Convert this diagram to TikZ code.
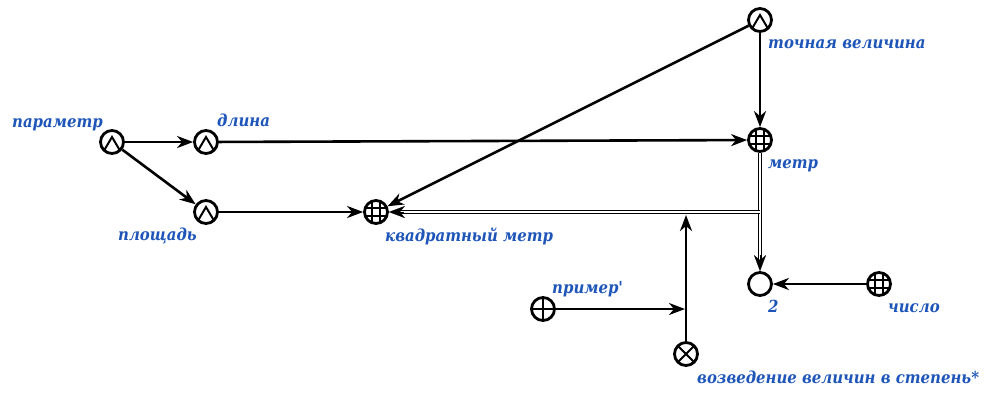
\documentclass[tikz,border=0pt]{standalone}
\usepackage{fontspec}
\setmainfont{DejaVu Serif Condensed}
\usetikzlibrary{arrows.meta,calc}
\definecolor{lblblue}{RGB}{30,85,185}
\tikzset{
  base/.style={circle,draw,line width=2.8pt,minimum size=23pt,inner sep=0pt,fill=white},
  abst/.style={base,path picture={\draw[line width=2pt] ([shift={(-10pt,-12pt)}]path picture bounding box.center) -- ++(10pt,17pt) -- ++(10pt,-17pt);}},
  gridnd/.style={base,path picture={
    \foreach \d in {-4pt,4pt}{
      \draw[line width=1.2pt] ([xshift=\d]path picture bounding box.north) -- ([xshift=\d]path picture bounding box.south);
      \draw[line width=1.2pt] ([yshift=\d]path picture bounding box.west) -- ([yshift=\d]path picture bounding box.east);}}},
  plusnd/.style={base,path picture={
      \draw[line width=2pt] (path picture bounding box.north) -- (path picture bounding box.south);
      \draw[line width=2pt] (path picture bounding box.west) -- (path picture bounding box.east);}},
  timesnd/.style={base,path picture={
      \draw[line width=2pt] (path picture bounding box.north west) -- (path picture bounding box.south east);
      \draw[line width=2pt] (path picture bounding box.south west) -- (path picture bounding box.north east);}},
  emptynd/.style={base},
  lbl/.style={text=lblblue,font=\bfseries\itshape\fontsize{16.6}{20}\selectfont,inner sep=0pt,anchor=base west},
  arr/.style={line width=2.6pt,-{Stealth[length=16pt,width=12pt,inset=5pt]}},
  dbl/.style={line width=1.3pt,double=white,double distance=2pt},
  dtip/.style={line width=0.1pt,-{Stealth[length=16pt,width=12pt,inset=5pt]}}
}
\begin{document}
\begin{tikzpicture}[x=1pt,y=-1pt]
\useasboundingbox (0,0) rectangle (984,392);
% nodes
\node[abst] (par) at (112,142) {};
\node[abst] (dlina) at (206,142) {};
\node[abst] (plosh) at (206,212) {};
\node[gridnd] (kvm) at (376,212) {};
\node[abst] (toch) at (760,20) {};
\node[gridnd] (metr) at (760,140) {};
\node[emptynd] (two) at (760,284) {};
\node[gridnd] (chislo) at (879,284) {};
\node[plusnd] (primer) at (543,309) {};
\node[timesnd] (vozv) at (686,354) {};
% labels
\node[lbl] (lpar) at (12,127) {параметр};
\node[lbl] (ldlina) at (217,126) {длина};
\node[lbl] (lplosh) at (118,240) {площадь};
\node[lbl] (lkvm) at (385,241) {квадратный метр};
\node[lbl] (ltoch) at (768,48) {точная величина};
\node[lbl] (lmetr) at (768,168) {метр};
\node[lbl] (ltwo) at (768,312) {2};
\node[lbl] (lchislo) at (888,312) {число};
\node[lbl] (lprimer) at (552,293) {пример\textquotesingle};
\node[lbl] (lvozv) at (697,383) {возведение величин в степень*};
% coordinates
\coordinate (J) at (760,212);
\coordinate (K) at (686,215);
\coordinate (P) at (685,309);
\coordinate (T2) at (760,255);
\coordinate (TK) at (404,212);
% connectors
\draw[arr] (par) -- (dlina);
\draw[arr] (par) -- (plosh);
\draw[arr] (dlina) -- (metr);
\draw[arr] (plosh) -- (kvm);
\draw[arr] (toch) -- (kvm);
\draw[arr] (toch) -- (metr);
\draw[arr] (chislo) -- (two);
\draw[dbl,shorten >=10pt] (metr) -- (two);
\draw[dbl,shorten >=10pt] (J) -- (kvm);
\draw[dtip] (T2) -- (two);
\draw[dtip] (TK) -- (kvm);
\draw[arr] (vozv) -- (K);
\draw[arr] (primer) -- (P);
\end{tikzpicture}
\end{document}
